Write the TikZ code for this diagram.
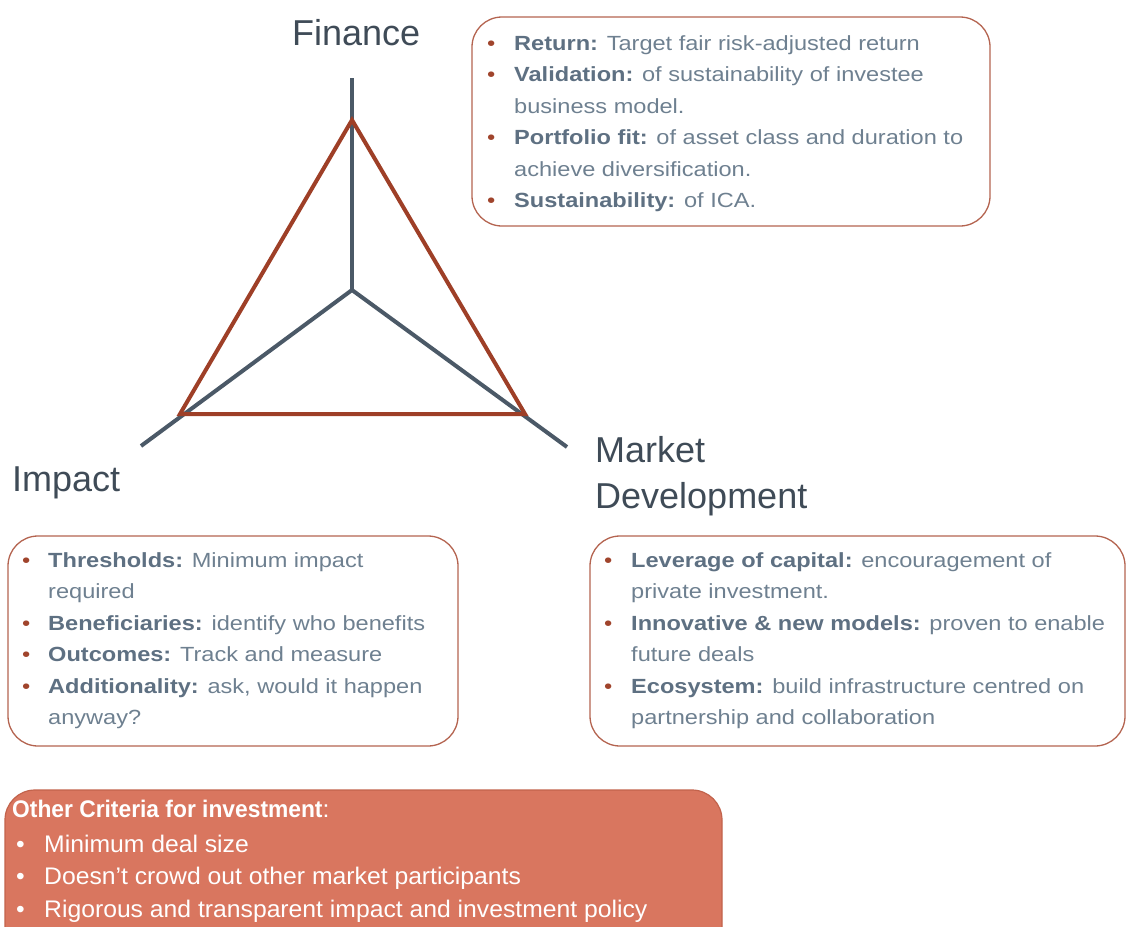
\documentclass[tikz,border=0pt]{standalone}
\usepackage{fontspec}
\setmainfont{Liberation Sans}
\newfontfamily\bodyf[FakeStretch=1.15]{Liberation Sans}
\newfontfamily\titlef[FakeStretch=0.95]{Liberation Sans}
\newfontfamily\critf[FakeStretch=1.03]{Liberation Sans}
\definecolor{axiscol}{HTML}{4B5967}
\definecolor{tricol}{HTML}{9E3F27}
\definecolor{boxline}{HTML}{B46450}
\definecolor{txt}{HTML}{6E8090}
\definecolor{lbl}{HTML}{5E7082}
\definecolor{headcol}{HTML}{3F4B57}
\definecolor{bul}{HTML}{A0442C}
\definecolor{crit}{HTML}{D9765F}
\definecolor{critline}{HTML}{C2634C}
\tikzset{
  ln/.style={anchor=base west, inner sep=0pt, font=\bodyf\fontsize{20.5}{24}\selectfont, text=txt},
  bl/.style={anchor=base west, inner sep=0pt, font=\bodyf\fontsize{20.5}{24}\selectfont, text=bul},
  wln/.style={anchor=base west, inner sep=0pt, font=\critf\fontsize{24}{28}\selectfont, text=white},
  cbox/.style={draw=boxline, line width=1.3pt, rounded corners=30pt},
  headtxt/.style={inner sep=0pt, anchor=base west, font=\fontsize{36}{40}\selectfont, text=headcol},
  axisline/.style={draw=axiscol, line width=4pt},
  triline/.style={draw=tricol, line width=4pt},
}
\newcommand{\lb}[1]{\textbf{\color{lbl}#1}}
\begin{document}
\begin{tikzpicture}[x=1pt,y=-1pt]
\useasboundingbox (0,0) rectangle (1126,926);
\clip (0,0) rectangle (1126,926);
% axes
\coordinate (C) at (352,290);
\coordinate (F) at (352,78);
\coordinate (I) at (141,446);
\coordinate (M) at (567,447);
\coordinate (T1) at (352,120);
\coordinate (T2) at (180,414);
\coordinate (T3) at (525,414);
\draw[axisline] (C) -- (F);
\draw[axisline] (C) -- (I);
\draw[axisline] (C) -- (M);
\draw[triline] (T1) -- (T2) -- (T3) -- cycle;
% headings
\node[headtxt] (hF) at (292,45) {Finance};
\node[headtxt] (hI) at (12,491) {Impact};
\node[headtxt] (hM1) at (595,462) {Market};
\node[headtxt] (hM2) at (595,508) {Development};
% boxes
\draw[cbox] (472,17) rectangle (990,226);
\draw[cbox] (8,536) rectangle (458,746);
\draw[cbox] (590,536) rectangle (1125,746);
\draw[draw=critline, fill=crit, line width=1.2pt, rounded corners=30pt] (5,790) rectangle (722,960);
% Finance box
\node[bl] (fb1) at (487,50) {•};
\node[ln] (f1) at (514,50) {\lb{Return:} Target fair risk-adjusted return};
\node[bl] (fb2) at (487,81.5) {•};
\node[ln] (f2) at (514,81.5) {\lb{Validation:} of sustainability of investee};
\node[ln] (f3) at (514,113) {business model.};
\node[bl] (fb3) at (487,144.5) {•};
\node[ln] (f4) at (514,144.5) {\lb{Portfolio fit:} of asset class and duration to};
\node[ln] (f5) at (514,176) {achieve diversification.};
\node[bl] (fb4) at (487,207.5) {•};
\node[ln] (f6) at (514,207.5) {\lb{Sustainability:} of ICA.};
% Impact box
\node[bl] (ib1) at (22,567) {•};
\node[ln] (i1) at (48,567) {\lb{Thresholds:} Minimum impact};
\node[ln] (i2) at (48,598.5) {required};
\node[bl] (ib2) at (22,630) {•};
\node[ln] (i3) at (48,630) {\lb{Beneficiaries:} identify who benefits};
\node[bl] (ib3) at (22,661.5) {•};
\node[ln] (i4) at (48,661.5) {\lb{Outcomes:} Track and measure};
\node[bl] (ib4) at (22,693) {•};
\node[ln] (i5) at (48,693) {\lb{Additionality:} ask, would it happen};
\node[ln] (i6) at (48,724.5) {anyway?};
% Market box
\node[bl] (mb1) at (604,567) {•};
\node[ln] (m1) at (631,567) {\lb{Leverage of capital:} encouragement of};
\node[ln] (m2) at (631,598.5) {private investment.};
\node[bl] (mb2) at (604,630) {•};
\node[ln] (m3) at (631,630) {\lb{Innovative \& new models:} proven to enable};
\node[ln] (m4) at (631,661.5) {future deals};
\node[bl] (mb3) at (604,693) {•};
\node[ln] (m5) at (631,693) {\lb{Ecosystem:} build infrastructure centred on};
\node[ln] (m6) at (631,724.5) {partnership and collaboration};
% Other criteria box
\node[wln] (c0) at (12,817) {{\titlef\bfseries Other Criteria for investment}:};
\node[wln] (cb1) at (16,852) {•};
\node[wln] (c1) at (44,852) {Minimum deal size};
\node[wln] (cb2) at (16,884.5) {•};
\node[wln] (c2) at (44,884.5) {Doesn’t crowd out other market participants};
\node[wln] (cb3) at (16,917) {•};
\node[wln] (c3) at (44,917) {Rigorous and transparent impact and investment policy};
\end{tikzpicture}
\end{document}
